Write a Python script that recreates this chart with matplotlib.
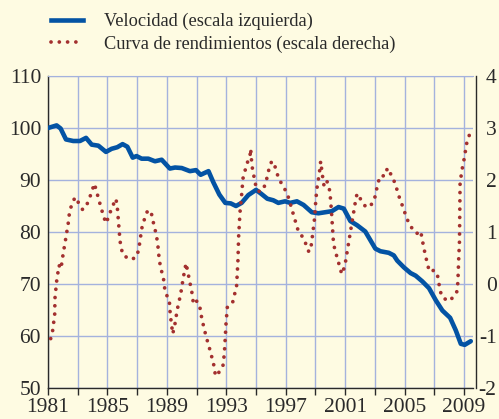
from __future__ import annotations

import matplotlib

matplotlib.use("Agg")
import matplotlib.pyplot as plt
from matplotlib.lines import Line2D

# Velocidad (escala izquierda)
velocity_years = [
    1981.0, 1981.58, 1981.85, 1982.21, 1982.7, 1983.15, 1983.56, 1983.94,
    1984.39, 1984.9, 1985.28, 1985.66, 1986.02, 1986.34, 1986.7, 1986.96,
    1987.3, 1987.75, 1988.2, 1988.65, 1989.2, 1989.55, 1990.0, 1990.55,
    1990.96, 1991.27, 1991.8, 1992.12, 1992.53, 1992.93, 1993.3, 1993.65,
    1994.03, 1994.48, 1995.0, 1995.37, 1995.76, 1996.16, 1996.5, 1996.95,
    1997.3, 1997.75, 1998.2, 1998.75, 1999.2, 1999.65, 2000.1, 2000.55,
    2000.9, 2001.35, 2001.8, 2002.35, 2002.7, 2003.03, 2003.37, 2003.93,
    2004.27, 2004.5, 2004.95, 2005.4, 2005.74, 2006.19, 2006.64, 2007.09,
    2007.54, 2008.06, 2008.44, 2008.78, 2009.04, 2009.45,
]
velocity = [
    100.0, 100.5, 99.9, 97.8, 97.5, 97.5, 98.1, 96.8,
    96.6, 95.4, 96.0, 96.3, 96.9, 96.4, 94.3, 94.6,
    94.1, 94.1, 93.6, 93.9, 92.2, 92.4, 92.3, 91.7,
    91.9, 91.0, 91.7, 89.6, 87.2, 85.6, 85.5, 85.0,
    85.6, 87.1, 88.1, 87.3, 86.4, 86.1, 85.6, 85.9,
    85.6, 85.9, 85.2, 83.8, 83.6, 83.8, 84.0, 84.8,
    84.5, 82.1, 81.3, 80.1, 78.4, 76.8, 76.3, 76.0,
    75.5, 74.5, 73.2, 72.1, 71.6, 70.5, 69.2, 66.9,
    64.9, 63.5, 61.1, 58.5, 58.3, 59.0,
]

# Curva de rendimientos (escala derecha)
curve_years = [
    1981.18, 1981.31, 1981.45, 1981.47, 1981.58, 1981.74, 1981.87, 1982.03,
    1982.21, 1982.39, 1982.45, 1982.61, 1982.82, 1983.06, 1983.33, 1983.56,
    1983.78, 1983.96, 1984.12, 1984.27, 1984.41, 1984.72, 1984.9, 1985.08,
    1985.26, 1985.57, 1985.66, 1985.75, 1985.84, 1985.91, 1986.07, 1986.56,
    1986.92, 1987.1, 1987.26, 1987.35, 1987.52, 1987.7, 1987.93, 1988.04,
    1988.17, 1988.29, 1988.38, 1988.49, 1988.6, 1988.76, 1988.89, 1989.16,
    1989.23, 1989.32, 1989.39, 1989.52, 1989.7, 1989.93, 1990.11, 1990.29,
    1990.51, 1990.73, 1990.78, 1991.0, 1991.18, 1991.36, 1991.63, 1991.94,
    1992.21, 1992.26, 1992.53, 1992.8, 1992.89, 1992.98, 1993.07, 1993.42,
    1993.69, 1993.78, 1993.83, 1993.92, 1994.03, 1994.12, 1994.25, 1994.41,
    1994.59, 1994.64, 1994.72, 1994.93, 1995.04, 1995.26, 1995.62, 1995.87,
    1996.05, 1996.2, 1996.52, 1996.78, 1997.02, 1997.2, 1997.52, 1997.83,
    1998.14, 1998.37, 1998.55, 1998.68, 1998.82, 1998.95, 1999.02, 1999.13,
    1999.24, 1999.35, 1999.49, 1999.58, 1999.76, 1999.89, 1999.98, 2000.07,
    2000.14, 2000.21, 2000.32, 2000.48, 2000.63, 2000.77, 2000.97, 2001.15,
    2001.33, 2001.51, 2001.69, 2001.8, 2002.04, 2002.34, 2002.65, 2002.96,
    2003.19, 2003.35, 2003.68, 2003.84, 2004.11, 2004.35, 2004.51, 2004.67,
    2004.87, 2005.05, 2005.25, 2005.52, 2005.81, 2006.08, 2006.17, 2006.39,
    2006.66, 2006.93, 2007.18, 2007.36, 2007.49, 2007.92, 2008.26, 2008.55,
    2008.6, 2008.64, 2008.69, 2008.7, 2008.71, 2008.73, 2008.8, 2008.89,
    2009.0, 2009.09, 2009.18, 2009.36,
]
curve = [
    -1.05, -0.90, -0.59, -0.27, 0.05, 0.36, 0.29, 0.60,
    0.90, 1.22, 1.40, 1.53, 1.67, 1.56, 1.43, 1.49,
    1.64, 1.79, 1.93, 1.78, 1.63, 1.32, 1.17, 1.29,
    1.44, 1.64, 1.49, 1.17, 0.85, 0.70, 0.55, 0.47,
    0.51, 0.65, 0.97, 1.13, 1.27, 1.41, 1.40, 1.24,
    1.09, 0.94, 0.78, 0.46, 0.29, 0.13, -0.17, -0.30,
    -0.60, -0.79, -0.96, -0.81, -0.49, -0.19, 0.13, 0.40,
    0.09, -0.23, -0.39, -0.33, -0.38, -0.68, -1.00, -1.31,
    -1.62, -1.77, -1.69, -1.55, -1.23, -0.76, -0.44, -0.36,
    -0.04, 0.44, 0.92, 1.38, 1.71, 2.03, 2.17, 2.33,
    2.46, 2.60, 2.28, 1.96, 1.82, 1.77, 1.90, 2.21,
    2.36, 2.33, 2.03, 1.90, 1.78, 1.65, 1.33, 1.03,
    0.90, 0.76, 0.62, 0.67, 0.98, 1.29, 1.61, 1.92,
    2.08, 2.36, 2.04, 1.88, 1.98, 1.90, 1.74, 1.42,
    1.11, 0.79, 0.64, 0.49, 0.33, 0.19, 0.34, 0.65,
    0.96, 1.28, 1.59, 1.74, 1.63, 1.50, 1.48, 1.62,
    1.92, 2.08, 2.08, 2.23, 2.09, 1.94, 1.79, 1.64,
    1.49, 1.34, 1.19, 1.06, 0.97, 1.02, 0.87, 0.56,
    0.24, 0.26, 0.22, -0.08, -0.24, -0.33, -0.26, -0.13,
    0.18, 0.50, 0.82, 1.14, 1.61, 1.93, 2.08, 2.24,
    2.40, 2.56, 2.71, 2.87,
]

year_ticks = list(range(1981, 2010, 2))
year_labels = [str(y) if (y - 1981) % 4 == 0 else "" for y in year_ticks]
left_ticks = [50, 60, 70, 80, 90, 100, 110]
right_ticks = [-2, -1, 0, 1, 2, 3, 4]

BACKGROUND = "#FEFBE2"
GRID = "#A4B2DD"
BLUE = "#0353A4"
RED = "#A3302F"
INK = "#2A2A2A"
DOTTED = (0, (0.01, 2.2))

plt.rcParams["font.family"] = ["Liberation Serif", "DejaVu Serif"]
plt.rcParams["axes.unicode_minus"] = False

figure = plt.figure(figsize=(4.99, 4.19), dpi=100, facecolor=BACKGROUND)
axis = figure.add_axes([48 / 499, 31 / 419, 425 / 499, 312 / 419])
axis.set_facecolor(BACKGROUND)

axis.plot(velocity_years, velocity, color=BLUE, linewidth=3.3,
          solid_capstyle="round", solid_joinstyle="round", zorder=3)
axis.set_xlim(1981, 2009.6)
axis.set_ylim(50, 110)
axis.set_xticks(year_ticks)
axis.set_xticklabels(year_labels)
axis.set_yticks(left_ticks)
axis.grid(True, color=GRID, linewidth=1.0)
axis.set_axisbelow(True)
axis.tick_params(axis="y", length=0, pad=5, labelsize=15.5, labelcolor=INK)
axis.tick_params(axis="x", length=5, width=1, color=INK, pad=2,
                 labelsize=15.5, labelcolor=INK)
for side in ("left", "bottom"):
    axis.spines[side].set_color(INK)
    axis.spines[side].set_linewidth(1.0)
axis.spines["top"].set_color(GRID)
axis.spines["right"].set_visible(False)

right = axis.twinx()
right.plot(curve_years, curve, color=RED, linewidth=2.7,
           linestyle=DOTTED, dash_capstyle="round", zorder=4)
right.set_ylim(-2, 4)
right.set_yticks(right_ticks)
right.tick_params(axis="y", length=0, pad=14.5, labelsize=15.5, labelcolor=INK)
for side in ("left", "bottom", "top"):
    right.spines[side].set_visible(False)
right.spines["right"].set_position(("outward", 2.5))
right.spines["right"].set_color(INK)
right.spines["right"].set_linewidth(1.0)

handles = [
    Line2D([], [], color=BLUE, linewidth=3.3),
    Line2D([], [], color=RED, linewidth=2.7, linestyle=DOTTED,
           dash_capstyle="round"),
]
labels = ["Velocidad (escala izquierda)", "Curva de rendimientos (escala derecha)"]
figure.legend(handles, labels, loc="upper left", bbox_to_anchor=(0.077, 1.0),
              frameon=False, fontsize=13.2, handlelength=1.75,
              handletextpad=1.1, labelspacing=0.3, borderpad=0.2,
              labelcolor=INK)

# right-hand labels are right-aligned against the figure edge in the original
figure.canvas.draw()
for tick in right.yaxis.get_major_ticks():
    tick.label2.set_horizontalalignment("right")

figure.savefig("out.png", dpi=100, facecolor=BACKGROUND)
